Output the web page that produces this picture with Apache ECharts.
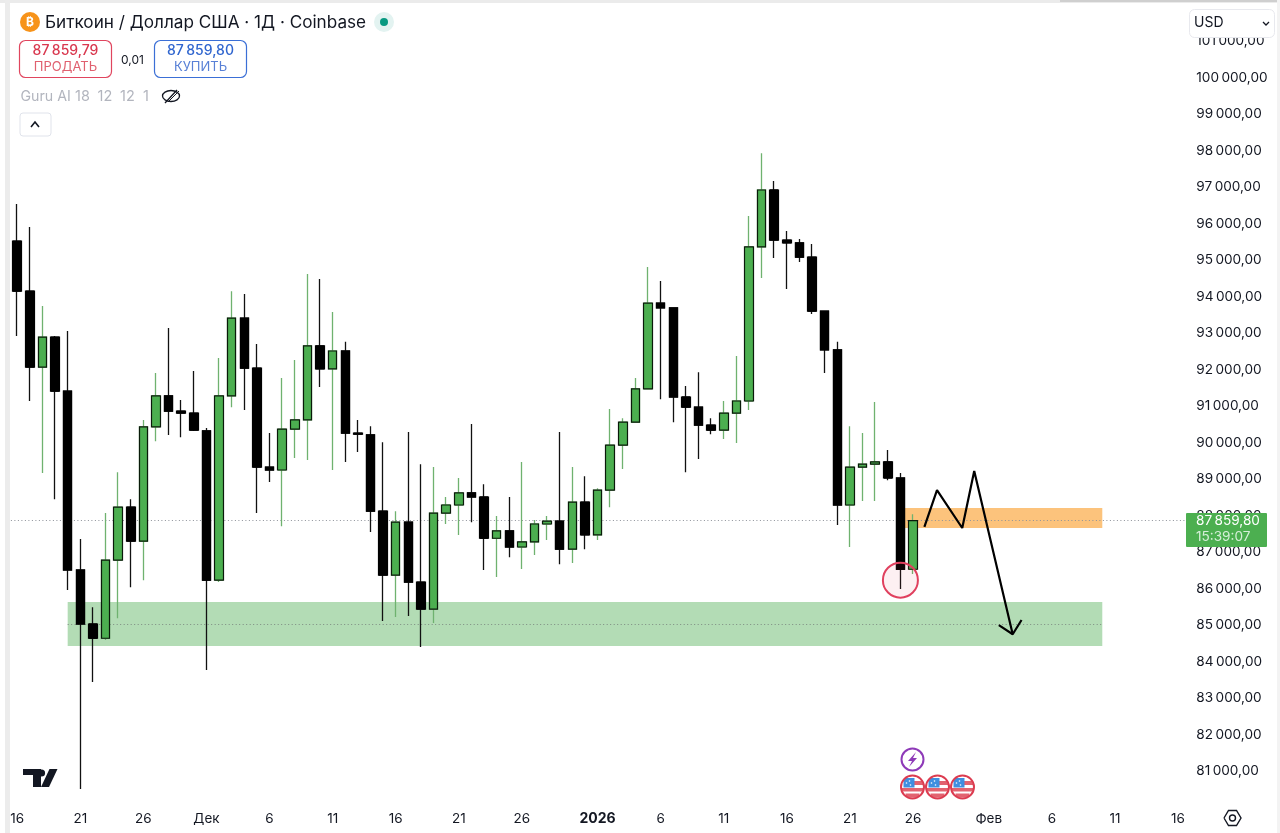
<!DOCTYPE html>
<html><head><meta charset="utf-8">
<style>html,body{margin:0;padding:0;background:#fff}#c{width:1280px;height:833px}</style>
<script src="https://cdn.jsdelivr.net/npm/echarts@6/dist/echarts.min.js"></script>
</head><body><div id="c"></div>
<script>
const dates = ['Nov 16','Nov 17','Nov 18','Nov 19','Nov 20','Nov 21','Nov 22','Nov 23','Nov 24','Nov 25','Nov 26','Nov 27','Nov 28','Nov 29','Nov 30',
'Dec 1','Dec 2','Dec 3','Dec 4','Dec 5','Dec 6','Dec 7','Dec 8','Dec 9','Dec 10','Dec 11','Dec 12','Dec 13','Dec 14','Dec 15','Dec 16','Dec 17','Dec 18','Dec 19','Dec 20','Dec 21','Dec 22','Dec 23','Dec 24','Dec 25','Dec 26','Dec 27','Dec 28','Dec 29','Dec 30','Dec 31',
'Jan 1','Jan 2','Jan 3','Jan 4','Jan 5','Jan 6','Jan 7','Jan 8','Jan 9','Jan 10','Jan 11','Jan 12','Jan 13','Jan 14','Jan 15','Jan 16','Jan 17','Jan 18','Jan 19','Jan 20','Jan 21','Jan 22','Jan 23','Jan 24','Jan 25','Jan 26','Jan 27','Jan 28','Jan 29','Jan 30','Jan 31',
'Feb 1','Feb 2','Feb 3','Feb 4','Feb 5','Feb 6','Feb 7','Feb 8','Feb 9','Feb 10','Feb 11','Feb 12','Feb 13','Feb 14','Feb 15','Feb 16'];
const opens = [95520,94150,92070,92890,91410,86510,85030,84640,86780,88230,87300,90430,91280,90860,90810,90320,86230,91280,93410,92040,89330,89250,90370,90620,92650,92020,92510,90260,90210,88120,86370,87820,86180,85440,88070,88290,88620,88510,87380,87580,87140,87280,87770,87850,87080,88370,87470,88700,89930,90560,91470,93820,93690,91250,90970,90480,90340,90810,91140,95360,96920,95550,95470,95080,93600,92540,88290,89330,89410,89470,89030,86530];
const closes = [94150,92070,92890,91410,86510,85030,84640,86780,88230,87300,90430,91280,90860,90810,90340,86230,91280,93410,92040,89330,89250,90370,90620,92650,92020,92510,90260,90230,88120,86370,87820,86180,85440,88070,88290,88620,88510,87380,87580,87140,87280,87770,87850,87080,88370,87470,88700,89930,90560,91470,93820,93690,91250,90970,90480,90340,90810,91140,95360,96920,95550,95470,95080,93600,92540,88290,89330,89410,89470,89030,86530,87860];
const lows = [92920,91140,89170,88450,85960,80510,83440,84590,85190,86040,86230,90040,90210,90150,90320,83770,86180,90970,90890,88070,88920,87710,89580,89520,91520,89250,89470,89740,87550,85110,85220,85250,84400,85060,87770,87470,87820,86510,86320,86860,86540,86920,87330,86670,86700,87080,87330,88230,89280,90560,91470,91190,90560,89190,89550,90230,90100,89990,90890,94510,95060,94210,94950,93520,91910,87740,87140,88400,88400,88970,85990,86400];
const highs = [96540,95910,93740,92920,93060,87360,85490,88070,89190,88450,90620,91910,93140,91170,91960,90400,92320,94150,94070,92700,90260,91770,92260,94620,94480,93580,92760,90620,90450,90010,88120,90290,89410,89330,88510,89030,90510,88860,87990,88510,89470,87880,87990,90290,89330,89080,88750,90920,90670,91770,94810,94430,93690,91550,91930,90670,91140,92370,96210,97930,97170,95800,95580,95440,93600,92760,90450,90260,91110,89800,89170,88040];
const tickLabels = {'Nov 16':'16','Nov 21':'21','Nov 26':'26','Dec 1':'Дек','Dec 6':'6','Dec 11':'11','Dec 16':'16','Dec 21':'21','Dec 26':'26','Jan 1':'2026','Jan 6':'6','Jan 11':'11','Jan 16':'16','Jan 21':'21','Jan 26':'26','Feb 1':'Фев','Feb 6':'6','Feb 11':'11','Feb 16':'16'};
const lastPrice = 87859.8;
const greenZone = [84430, 85630], greenMid = 85030, orangeZone = [87660, 88210];
const pathMain = [[71.9,87690],[72.9,88700],[74.9,87660],[75.85,89220],[78.9,84750]];
const pathHead = [[77.8,85000],[78.9,84750],[79.6,85140]];
const circlePoint = ['Jan 25', 86230];

const FONT = 'Inter, "Noto Sans", sans-serif';
const ohlc = opens.map((o,i)=>[o,closes[i],lows[i],highs[i]]);
const bodies = opens.map((o,i)=>[o,closes[i],Math.min(o,closes[i]),Math.max(o,closes[i])]);
const fmt = v => String(Math.round(v)).replace(/\B(?=(\d{3})+$)/g,'\u2009')+',00';

function T(text,x,y,o){o=o||{};return {type:'text',x:x,y:y+1,z:50,style:{text:text,fill:o.fill||'#131722',font:(o.weight||'400')+' '+(o.size||14)+'px '+FONT,textAlign:o.align||'left',textVerticalAlign:'middle'}};}
function R(x,y,w,h,o){o=o||{};return {type:'rect',z:o.z||40,shape:{x:x,y:y,width:w,height:h,r:o.r||0},style:{fill:o.fill||'none',stroke:o.stroke||null,lineWidth:o.lw||1}};}
function C(cx,cy,r,o){o=o||{};return {type:'circle',z:o.z||45,shape:{cx:cx,cy:cy,r:r},style:{fill:o.fill||'none',stroke:o.stroke||null,lineWidth:o.lw||1}};}
function L(pts,o){o=o||{};return {type:o.fill?'polygon':'polyline',z:o.z||46,shape:{points:pts},style:{fill:o.fill||null,stroke:o.stroke||null,lineWidth:o.lw||1.5}};}
function flag(cx,cy){return [
  C(cx,cy,10.5,{fill:'#fff',z:44}),
  R(cx,cy-6,11,4,{fill:'#e2636f',z:45}),R(cx-11,cy+1,22,3.5,{fill:'#e2636f',z:45}),R(cx-7,cy+6.5,14,4,{fill:'#e2636f',z:45}),
  R(cx-9,cy-9,11,9.5,{fill:'#3f8fe0',z:46}),
  C(cx-6,cy-4,0.8,{fill:'#fff',z:46}),C(cx-3,cy-6,0.8,{fill:'#fff',z:46}),C(cx-2,cy-2,0.8,{fill:'#fff',z:46}),
  C(cx,cy,12,{stroke:'#fff',lw:2,z:47}),
  C(cx,cy,11.5,{stroke:'#dc3c50',lw:2,z:48})
];}
const graphics = [
  R(1185,0,95,37,{fill:'#fff',z:30}),
  R(0,0,1280,3,{fill:'#ebebeb'}),R(1060,0,220,2,{fill:'#cfcfcf'}),R(5,0,5,833,{fill:'#ececec'}),R(1277,0,3,833,{fill:'#f3f3f3'}),
  C(30,22,10,{fill:'#f7931a'}),T('₿',30,21,{fill:'#fff',size:12,weight:'700',align:'center'}),
  T('Биткоин / Доллар США · 1Д · Coinbase',45,22,{size:17.15}),
  C(384,22,10,{fill:'#e3f3f1'}),C(384,22,4,{fill:'#089981',z:46}),
  R(19.5,40.5,92,37,{stroke:'#e0455e',r:6,lw:1.2}),T('87\u2009859,79',65.5,50,{fill:'#d9384f',weight:'500',align:'center'}),T('ПРОДАТЬ',65.5,66,{fill:'#e0606f',size:13,align:'center'}),
  T('0,01',132.5,59,{size:12,align:'center'}),
  R(154.5,40.5,92,37,{stroke:'#3b6fd6',r:6,lw:1.2}),T('87\u2009859,80',200.5,50,{fill:'#2f65cf',weight:'500',align:'center'}),T('КУПИТЬ',200.5,66,{fill:'#5880d6',size:13,align:'center'}),
  T('Guru AI',20.5,95.5,{fill:'#b2b5be',size:14.2}),T('18',75,95.5,{fill:'#b2b5be',size:14.5}),T('12',97.5,95.5,{fill:'#b2b5be',size:14.5}),T('12',120,95.5,{fill:'#b2b5be',size:14.5}),T('1',143,95.5,{fill:'#b2b5be',size:14.5}),
  {type:'ellipse',z:45,shape:{cx:171,cy:96,rx:8.5,ry:5.5},style:{fill:'none',stroke:'#131722',lineWidth:1.3}},
  L([[165,103],[177,90]],{stroke:'#131722',lw:1.3}),L([[168,102],[179,91]],{stroke:'#131722',lw:1}),
  R(20,113,31,23,{stroke:'#e0e3eb',r:3}),L([[31,127],[35,122],[39,127]],{stroke:'#131722',lw:1.6}),
  L([[23,769],[41,769],[41,787],[33,787],[33,775],[23,775]],{fill:'#131722'}),C(41.5,773,3.6,{fill:'#131722'}),L([[49.5,769],[57.5,769],[49,787],[41,787]],{fill:'#131722'}),
  R(1189.5,9.5,85,28,{fill:'#fff',stroke:'#e8e9ee',r:5,z:31}),T('USD',1194,22,{}),L([[1263,22],[1266,25],[1269,22]],{stroke:'#131722',lw:1.3}),
  R(1186,513,81,34,{fill:'#4caf50',r:1}),T('87\u2009859,80',1196,520,{fill:'#fff',size:13.6}),T('15:39:07',1196,536,{fill:'#d6efd8',size:13.6}),
  L([[1224,818],[1228.5,810.5],[1236.5,810.5],[1241,818],[1236.5,825.5],[1228.5,825.5],[1224,818]],{stroke:'#131722',lw:1.4}),C(1232.5,818,3,{stroke:'#131722',lw:1.4}),
  C(912.5,759.5,11,{fill:'#fff',stroke:'#8e3ab8',lw:2}),L([[916,752],[908,761],[912,761],[909,767],[917,758],[913,758]],{fill:'#8e3ab8'})
].concat(flag(912.5,787),flag(937.5,787),flag(962.5,787));

const chart = echarts.init(document.getElementById('c'),null,{renderer:'canvas'});
chart.setOption({
  animation:false,
  backgroundColor:'#fff',
  textStyle:{fontFamily:FONT},
  grid:{left:10.9,width:1173.4,top:4.6,height:803,containLabel:false},
  xAxis:[
    {type:'category',data:dates,boundaryGap:true,axisLine:{show:false},axisTick:{show:false},splitLine:{show:false},
     axisLabel:{color:'#131722',fontSize:13.5,fontFamily:FONT,margin:4,hideOverlap:false,
       interval:(i,name)=>name in tickLabels,
       formatter:v=>tickLabels[v]==='2026'?'{b|2026}':(tickLabels[v]||''),
       rich:{b:{fontWeight:700,fontSize:14,color:'#131722',fontFamily:FONT}}}},
    {type:'value',min:-0.5,max:92.5,show:false}
  ],
  yAxis:{type:'value',position:'right',min:80000,max:102000,interval:1000,scale:true,axisLine:{show:false},axisTick:{show:false},splitLine:{show:false},
    axisLabel:{color:'#131722',fontSize:13.6,fontFamily:FONT,margin:12,padding:[5,0,0,0],showMinLabel:false,showMaxLabel:false,formatter:fmt}},
  series:[
    {name:'Wicks',type:'candlestick',data:ohlc,barWidth:8,z:3,
     itemStyle:{color:'#4caf50',color0:'#000',borderColor:'#6fb26f',borderColor0:'#111',borderWidth:1.3},
     markArea:{silent:true,z:1,data:[
       [{xAxis:dates[4],yAxis:greenZone[1],itemStyle:{color:'#b3dcb5'}},{xAxis:dates[86],yAxis:greenZone[0]}],
       [{xAxis:dates[70],yAxis:orangeZone[1],itemStyle:{color:'#fcc37c'}},{xAxis:dates[86],yAxis:orangeZone[0]}]
     ]},
     markLine:{silent:true,z:2,symbol:'none',animation:false,label:{show:false},data:[
       [{x:10.9,yAxis:lastPrice,lineStyle:{color:'#8d9199',type:[1,2.5],width:1}},{x:1185,yAxis:lastPrice}],
       [{xAxis:dates[4],yAxis:greenMid,lineStyle:{color:'#7d8a80',type:[1,2.5],width:1}},{xAxis:dates[86],yAxis:greenMid}]
     ]}},
    {name:'Bodies',type:'candlestick',data:bodies,barWidth:9,z:4,
     itemStyle:{color:'#4caf50',color0:'#000',borderColor:'#0a1a0a',borderColor0:'#000',borderWidth:1.2}},
    {name:'Marker',type:'scatter',data:[circlePoint],symbol:'circle',symbolSize:35,z:5,silent:true,
     itemStyle:{color:'rgba(224,64,94,0.08)',borderColor:'#e0405e',borderWidth:2,opacity:1}},
    {name:'Path',type:'line',xAxisIndex:1,data:pathMain,symbol:'none',z:6,silent:true,lineStyle:{color:'#000',width:2.2}},
    {name:'Arrow',type:'line',xAxisIndex:1,data:pathHead,symbol:'none',z:6,silent:true,lineStyle:{color:'#000',width:2.2}}
  ],
  graphic:graphics
});
</script></body></html>
